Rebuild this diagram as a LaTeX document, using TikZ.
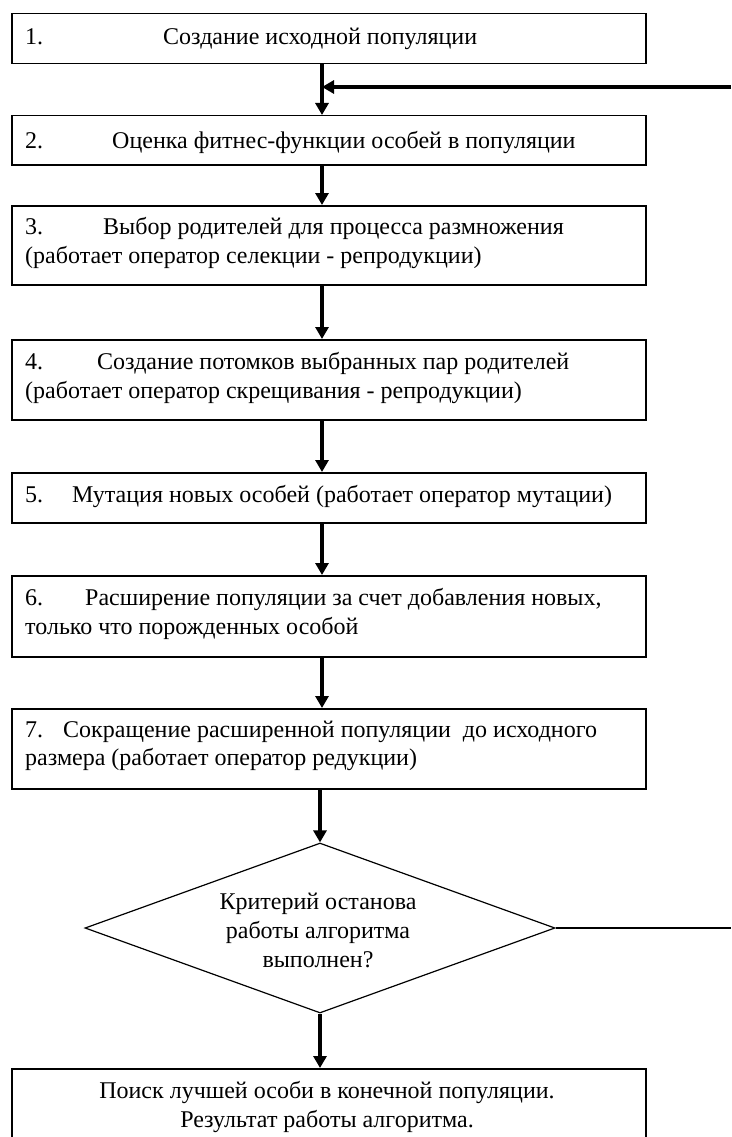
\documentclass[tikz,border=0pt]{standalone}
\usepackage{fontspec}
\setmainfont{Liberation Serif}
\usetikzlibrary{shapes.geometric,arrows.meta}
\tikzset{
  stepbox/.style={draw=black,line width=1.5pt,rectangle,minimum width=634pt,inner sep=0pt,anchor=north west},
  txt/.style={anchor=base west,inner sep=0pt,font=\fontsize{24}{29}\selectfont},
  ctxt/.style={anchor=base,inner sep=0pt,font=\fontsize{24}{29}\selectfont},
  arr/.style={line width=3.2pt,-{Triangle[width=13pt,length=12pt]}},
  thinline/.style={line width=1.2pt},
  decision/.style={diamond,draw=black,line width=1.2pt,minimum width=470pt,minimum height=170pt,inner sep=0pt}
}
\begin{document}
\begin{tikzpicture}[x=1pt,y=-1pt]
\useasboundingbox (0,0) rectangle (731,1137);
\clip (0,0) rectangle (731,1137);
% boxes
\node[stepbox,minimum height=50pt] (b1) at (11,13) {};
\node[stepbox,minimum height=49pt] (b2) at (11,115) {};
\node[stepbox,minimum height=79pt] (b3) at (11,205) {};
\node[stepbox,minimum height=80pt] (b4) at (11,339) {};
\node[stepbox,minimum height=50pt] (b5) at (11,472) {};
\node[stepbox,minimum height=81pt] (b6) at (11,575) {};
\node[stepbox,minimum height=80pt] (b7) at (11,708) {};
\node[decision] (dia) at (320,928) {};
\node[stepbox,minimum height=100pt] (b8) at (11,1068) {};
% texts
\node[txt] (n1) at (25,45) {1.};
\node[txt] (t1) at (163,45) {Создание исходной популяции};
\node[txt] (n2) at (25,148) {2.};
\node[txt] (t2) at (112,148) {Оценка фитнес-функции особей в популяции};
\node[txt] (n3) at (25,234) {3.};
\node[txt] (t3a) at (103,234) {Выбор родителей для процесса размножения};
\node[txt] (t3b) at (25,263) {(работает оператор селекции - репродукции)};
\node[txt] (n4) at (25,369) {4.};
\node[txt] (t4a) at (97,369) {Создание потомков выбранных пар родителей};
\node[txt] (t4b) at (25,398) {(работает оператор скрещивания - репродукции)};
\node[txt] (n5) at (25,502) {5.};
\node[txt] (t5) at (72,502) {Мутация новых особей (работает оператор мутации)};
\node[txt] (n6) at (25,605) {6.};
\node[txt] (t6a) at (85,605) {Расширение популяции за счет добавления новых,};
\node[txt] (t6b) at (25,634) {только что порожденных особой};
\node[txt] (n7) at (25,737) {7.};
\node[txt] (t7a) at (63,737) {Сокращение расширенной популяции\ \ до исходного};
\node[txt] (t7b) at (25,765) {размера (работает оператор редукции)};
\node[ctxt] (d1) at (318,909) {Критерий останова};
\node[ctxt] (d2) at (318,938) {работы алгоритма};
\node[ctxt] (d3) at (318,967) {выполнен?};
\node[ctxt] (f1) at (327,1098) {Поиск лучшей особи в конечной популяции.};
\node[ctxt] (f2) at (327,1127) {Результат работы алгоритма.};
% connectors
\coordinate (ax) at (322,0);
\coordinate (fbR) at (731,87);
\coordinate (dR) at (731,928);
\draw[arr] (b1.south -| ax) -- (b2.north -| ax);
\draw[arr] (fbR) -- (fbR -| ax);
\draw[arr] (b2.south -| ax) -- (b3.north -| ax);
\draw[arr] (b3.south -| ax) -- (b4.north -| ax);
\draw[arr] (b4.south -| ax) -- (b5.north -| ax);
\draw[arr] (b5.south -| ax) -- (b6.north -| ax);
\draw[arr] (b6.south -| ax) -- (b7.north -| ax);
\draw[arr] (b7.south -| dia.north) -- (dia.north);
\draw[arr] (dia.south) -- (b8.north -| dia.south);
\draw[thinline] (dia.east) -- (dR);
\end{tikzpicture}
\end{document}
